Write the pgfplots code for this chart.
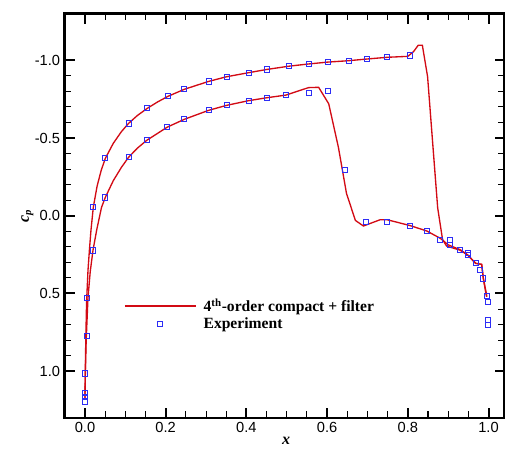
\documentclass[border=0pt]{standalone}
\usepackage{fontspec}
\setmainfont{Liberation Serif}
\newfontfamily\ticksf{Liberation Sans}
\usepackage{pgfplots}
\pgfplotsset{compat=1.18}
\definecolor{cfdred}{RGB}{210,10,20}
\definecolor{mkblue}{RGB}{45,45,245}
\begin{document}
\begin{tikzpicture}
\useasboundingbox (-48.6pt,-24.1pt) rectangle (330.15pt,313.4pt);
\begin{axis}[
  at={(0pt,0pt)}, anchor=south west,
  scale only axis, width=329.9pt, height=303.2pt,
  xmin=-0.05, xmax=1.04, ymin=-1.3, ymax=1.3, y dir=reverse,
  xtick={0,0.2,0.4,0.6,0.8,1.0}, minor x tick num=3,
  ytick={-1,-0.5,0,0.5,1}, minor y tick num=4,
  tick align=inside,
  major tick length=7.5pt, minor tick length=4.8pt,
  every major tick/.style={line width=1.5pt, black},
  every minor tick/.style={line width=0.8pt, black},
  axis line style={line width=2pt},
  /pgf/number format/assume math mode=true,
  xticklabel style={font=\ticksf\fontsize{11}{13}\selectfont, /pgf/number format/.cd, fixed, fixed zerofill, precision=1},
  yticklabel style={font=\ticksf\fontsize{11}{13}\selectfont, /pgf/number format/.cd, fixed, fixed zerofill, precision=1},
  xlabel={\textbf{\textit{x}}},
  ylabel={\textbf{\textit{c}\textsubscript{\textit{p}}}},
  xlabel style={font=\fontsize{12}{14}\selectfont, at={(axis description cs:0.503,0)}, anchor=north, yshift=-13pt, inner sep=1pt},
  ylabel style={font=\fontsize{12}{14}\selectfont, at={(axis description cs:-0.085,0.5)}, anchor=center},
  legend style={draw=none, fill=none, font=\fontsize{11.7}{14}\selectfont\bfseries,
    at={(axis description cs:0.1255,0.2556)}, anchor=west, row sep=-1pt, column sep=3.5pt},
  legend cell align=left,
  legend image code/.code={\draw[mark repeat=2,mark phase=2,#1] plot coordinates {(0pt,0pt) (26.5pt,0pt) (53pt,0pt)};},
]
\addplot[cfdred, line width=1pt] coordinates {
(0,1.18) (0.0008,1.0) (0.002,0.8) (0.004,0.55) (0.0075,0.35) (0.011,0.22) (0.0149,0.092) (0.0206,-0.054)
(0.03,-0.19) (0.04,-0.29) (0.0504,-0.369) (0.07,-0.465) (0.09,-0.54) (0.108,-0.594) (0.13,-0.645)
(0.1545,-0.691) (0.18,-0.732) (0.2057,-0.768) (0.246,-0.813) (0.3065,-0.864) (0.351,-0.894)
(0.4056,-0.920) (0.451,-0.941) (0.506,-0.962) (0.554,-0.976) (0.601,-0.988) (0.653,-0.997)
(0.699,-1.008) (0.749,-1.019) (0.80,-1.025) (0.814,-1.055) (0.826,-1.097) (0.836,-1.097)
(0.849,-0.894) (0.863,-0.42) (0.874,-0.05) (0.886,0.152) (0.896,0.195) (0.93,0.222) (0.948,0.252)
(0.968,0.306) (0.983,0.313) (0.987,0.40) (0.996,0.52)
};
\addlegendentry{4\textsuperscript{th}-order compact + filter}
\addplot[mkblue, only marks, mark=square, mark size=1.9pt, line width=0.6pt] coordinates {
(0.0206,-0.054) (0.0504,-0.369) (0.108,-0.594) (0.1545,-0.691) (0.2057,-0.768) (0.246,-0.813)
(0.3065,-0.864) (0.351,-0.894) (0.4056,-0.920) (0.451,-0.941) (0.506,-0.965) (0.554,-0.978)
(0.601,-0.988) (0.654,-0.998) (0.699,-1.008) (0.749,-1.021) (0.804,-1.031)
(0.0198,0.223) (0.0504,-0.118) (0.108,-0.376) (0.153,-0.485) (0.204,-0.570) (0.246,-0.620)
(0.3065,-0.678) (0.351,-0.710) (0.4056,-0.740) (0.451,-0.759) (0.498,-0.776) (0.554,-0.789)
(0.601,-0.800) (0.645,-0.292) (0.697,0.039) (0.748,0.040) (0.804,0.066) (0.847,0.098)
(0.880,0.153) (0.904,0.158) (0.904,0.185) (0.930,0.221) (0.948,0.236) (0.948,0.254)
(0.968,0.302) (0.978,0.350) (0.986,0.403) (0.997,0.518) (0.998,0.553) (0.998,0.671) (0.998,0.703)
(0.0057,0.531) (0.0057,0.773) (0.0008,1.014) (0.0008,1.140) (0.0008,1.168) (0.0008,1.194)
};
\addlegendentry{Experiment}
\addplot[cfdred, line width=1pt, forget plot] coordinates {
(0,1.18) (0.001,1.0) (0.003,0.8) (0.0074,0.53) (0.013,0.36) (0.0198,0.223) (0.029,0.092)
(0.041,-0.054) (0.0504,-0.118) (0.07,-0.225) (0.09,-0.31) (0.108,-0.376) (0.13,-0.435)
(0.153,-0.485) (0.18,-0.53) (0.204,-0.570) (0.246,-0.620) (0.3065,-0.678) (0.351,-0.710)
(0.4056,-0.740) (0.451,-0.759) (0.498,-0.776) (0.554,-0.824) (0.579,-0.826) (0.604,-0.72)
(0.628,-0.44) (0.648,-0.144) (0.670,0.03) (0.690,0.066) (0.731,0.026) (0.749,0.026)
(0.804,0.062) (0.847,0.098) (0.881,0.146) (0.900,0.187) (0.930,0.219) (0.948,0.251)
(0.968,0.306) (0.983,0.313) (0.987,0.403) (0.995,0.521)
};
\end{axis}
\end{tikzpicture}
\end{document}
